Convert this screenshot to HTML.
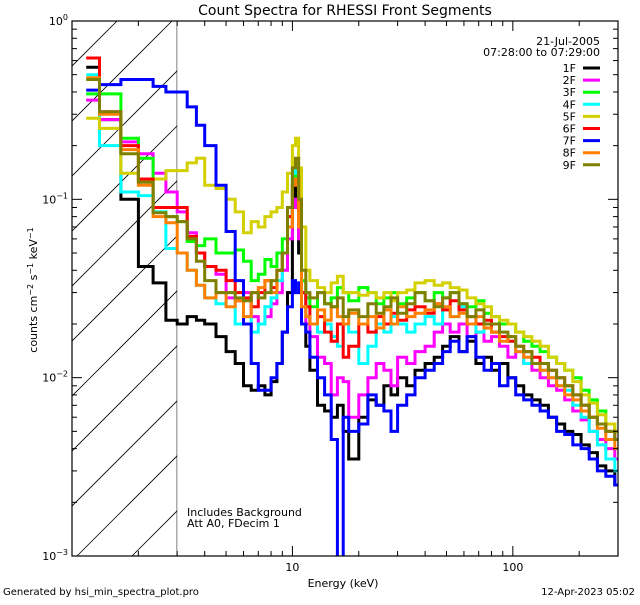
<!DOCTYPE html>
<html><head><meta charset="utf-8"><style>
body{margin:0;background:#fff;}
svg text{font-family:"DejaVu Sans","Liberation Sans",sans-serif;fill:#000;}
</style></head><body>
<svg id="chart" width="640" height="600" xmlns="http://www.w3.org/2000/svg">
<rect width="640" height="600" fill="#fff"/>
<text x="345" y="15" font-size="14" text-anchor="middle">Count Spectra for RHESSI Front Segments</text>
<g id="hatch"></g>
<g id="series"></g>
<g id="axes"></g>
<text x="187" y="516" font-size="11">Includes Background</text>
<text x="187" y="527" font-size="11">Att A0, FDecim 1</text>
<text x="343" y="587" font-size="11" text-anchor="middle">Energy (keV)</text>
<text transform="translate(37,290) rotate(-90)" font-size="11" text-anchor="middle">counts cm<tspan dy="-4" font-size="8">−2</tspan><tspan dy="4"> s</tspan><tspan dy="-4" font-size="8">−1</tspan><tspan dy="4"> keV</tspan><tspan dy="-4" font-size="8">−1</tspan></text>
<text x="3" y="595" font-size="10">Generated by hsi_min_spectra_plot.pro</text>
<text x="635" y="595" font-size="10" text-anchor="end">12-Apr-2023 05:02</text>
<text x="600" y="45" font-size="11" text-anchor="end">21-Jul-2005</text>
<text x="600" y="56" font-size="11" text-anchor="end">07:28:00 to 07:29:00</text>
<g id="legend"></g>
</svg>
<script>
const edges=[1.16,1.333,1.667,2,2.333,2.667,3,3.333,3.667,4,4.5,5,5.5,6,6.5,7,7.5,8,8.5,9,9.5,10,10.33,10.67,11,11.5,12,13,14,15,16,17,18,20,22,24,26,28,30,33,36,40,44,48,52,57,62,68,74,80,87,95,103,112,122,133,145,158,172,187,204,222,242,264,290,300];
const seriesNames=["1F","2F","3F","4F","5F","6F","7F","8F","9F"];
const seriesColors=["#000000","#ff00ff","#00ff00","#00ffff","#d4d000","#ff0000","#0000ff","#ff8000","#808000"];
const s1F=[0.55,0.28,0.10,0.042,0.034,0.021,0.020,0.022,0.021,0.02,0.017,0.014,0.012,0.009,0.0085,0.009,0.008,0.0095,0.012,0.018,0.03,0.09,0.12,0.05,0.02,0.015,0.011,0.007,0.0065,0.006,0.007,0.005,0.0035,0.006,0.0075,0.007,0.009,0.008,0.01,0.009,0.011,0.012,0.013,0.015,0.017,0.014,0.016,0.012,0.013,0.011,0.012,0.01,0.009,0.008,0.0075,0.007,0.006,0.0055,0.005,0.0048,0.0042,0.0038,0.0032,0.003,0.0025];
const s2F=[0.36,0.28,0.21,0.18,0.14,0.11,0.085,0.065,0.05,0.042,0.038,0.028,0.027,0.03,0.022,0.02,0.022,0.026,0.03,0.04,0.06,0.09,0.1,0.06,0.03,0.02,0.017,0.013,0.012,0.008,0.01,0.0095,0.006,0.008,0.01,0.012,0.011,0.009,0.013,0.012,0.014,0.015,0.018,0.02,0.018,0.02,0.017,0.018,0.016,0.017,0.015,0.013,0.014,0.012,0.011,0.01,0.009,0.0085,0.0075,0.0065,0.0058,0.005,0.0045,0.004,0.0035];
const s3F=[0.39,0.39,0.22,0.17,0.085,0.08,0.075,0.058,0.055,0.06,0.05,0.05,0.052,0.045,0.035,0.038,0.046,0.042,0.05,0.06,0.08,0.13,0.15,0.08,0.035,0.028,0.025,0.03,0.026,0.028,0.032,0.03,0.027,0.032,0.03,0.026,0.028,0.03,0.026,0.028,0.03,0.027,0.03,0.028,0.03,0.026,0.025,0.027,0.023,0.022,0.02,0.02,0.018,0.016,0.015,0.014,0.013,0.012,0.011,0.01,0.0085,0.0075,0.0065,0.0055,0.005];
const s4F=[0.5,0.2,0.11,0.105,0.085,0.053,0.05,0.04,0.033,0.028,0.026,0.03,0.02,0.022,0.018,0.02,0.025,0.028,0.035,0.05,0.08,0.14,0.16,0.09,0.03,0.022,0.02,0.018,0.02,0.017,0.015,0.02,0.018,0.012,0.015,0.02,0.018,0.022,0.02,0.018,0.02,0.022,0.02,0.024,0.022,0.025,0.02,0.018,0.02,0.018,0.017,0.016,0.014,0.012,0.012,0.011,0.01,0.009,0.0085,0.007,0.006,0.005,0.0042,0.0035,0.003];
const s5F=[0.285,0.25,0.14,0.125,0.13,0.145,0.145,0.16,0.17,0.12,0.115,0.1,0.085,0.065,0.075,0.07,0.08,0.085,0.09,0.11,0.14,0.2,0.22,0.15,0.07,0.04,0.035,0.032,0.03,0.034,0.037,0.03,0.03,0.029,0.03,0.028,0.03,0.027,0.03,0.031,0.034,0.035,0.033,0.034,0.032,0.031,0.028,0.026,0.025,0.022,0.021,0.02,0.018,0.017,0.016,0.015,0.013,0.012,0.011,0.0095,0.008,0.0072,0.0062,0.0055,0.005];
const s6F=[0.62,0.31,0.2,0.13,0.09,0.09,0.09,0.062,0.05,0.042,0.04,0.035,0.03,0.028,0.025,0.03,0.035,0.032,0.04,0.05,0.08,0.12,0.13,0.08,0.03,0.025,0.02,0.022,0.018,0.016,0.02,0.013,0.015,0.02,0.018,0.022,0.02,0.023,0.021,0.024,0.025,0.023,0.026,0.024,0.027,0.024,0.022,0.02,0.021,0.018,0.017,0.016,0.015,0.014,0.013,0.012,0.011,0.01,0.009,0.008,0.007,0.006,0.0055,0.005,0.0045];
const s7F=[0.41,0.44,0.47,0.47,0.43,0.4,0.4,0.33,0.26,0.2,0.12,0.066,0.035,0.02,0.012,0.0085,0.0085,0.01,0.012,0.018,0.025,0.035,0.03,0.034,0.02,0.018,0.013,0.01,0.008,0.0045,0.0007,0.006,0.005,0.0055,0.008,0.007,0.0065,0.005,0.007,0.008,0.01,0.011,0.012,0.014,0.016,0.014,0.017,0.013,0.011,0.012,0.009,0.01,0.008,0.0075,0.007,0.0065,0.006,0.005,0.0048,0.0042,0.004,0.0035,0.003,0.0028,0.0025];
const s8F=[0.48,0.3,0.19,0.12,0.08,0.074,0.05,0.04,0.033,0.028,0.03,0.025,0.027,0.022,0.03,0.032,0.035,0.03,0.04,0.05,0.07,0.12,0.13,0.07,0.025,0.022,0.02,0.024,0.021,0.025,0.022,0.02,0.023,0.02,0.022,0.019,0.024,0.02,0.025,0.022,0.023,0.024,0.026,0.025,0.022,0.023,0.02,0.022,0.019,0.018,0.016,0.017,0.014,0.013,0.012,0.011,0.01,0.009,0.008,0.0075,0.0065,0.006,0.0052,0.0045,0.004];
const s9F=[0.47,0.31,0.18,0.125,0.084,0.08,0.075,0.06,0.045,0.035,0.03,0.03,0.028,0.027,0.03,0.028,0.03,0.035,0.04,0.05,0.09,0.15,0.17,0.1,0.04,0.03,0.028,0.03,0.026,0.025,0.028,0.022,0.024,0.022,0.026,0.023,0.025,0.028,0.023,0.026,0.03,0.027,0.025,0.028,0.03,0.026,0.022,0.024,0.02,0.02,0.018,0.017,0.015,0.014,0.012,0.012,0.011,0.01,0.009,0.008,0.007,0.006,0.0055,0.005,0.0045];
const seriesValues=[s1F,s2F,s3F,s4F,s5F,s6F,s7F,s8F,s9F];
const xTickLabels=["10","100"];
const yTickLabels=["0","−1","−2","−3"];

const NS="http://www.w3.org/2000/svg";
const L=72,R=618,T=21,B=556;
const xmin=1,xmax=300,ymin=1e-3,ymax=1;
function X(e){return L+(Math.log10(e)-Math.log10(xmin))/(Math.log10(xmax)-Math.log10(xmin))*(R-L);}
function Y(v){return T+(Math.log10(ymax)-Math.log10(v))/(Math.log10(ymax)-Math.log10(ymin))*(B-T);}
function mk(tag,attrs,parent){const el=document.createElementNS(NS,tag);for(const k in attrs)el.setAttribute(k,attrs[k]);parent.appendChild(el);return el;}
const svg=document.getElementById('chart');
const defs=mk('defs',{},svg);
const cp=mk('clipPath',{id:'plotclip'},defs);
mk('rect',{x:L,y:T,width:R-L,height:B-T},cp);
const hcp=mk('clipPath',{id:'hatchclip'},defs);
mk('rect',{x:L,y:T,width:X(3)-L,height:B-T},hcp);

const hatch=document.getElementById('hatch');
hatch.setAttribute('clip-path','url(#hatchclip)');
for(let k=-600;k<200;k+=55){
  const ln=mk('line',{x1:L+k,y1:B,x2:L+k+600,y2:B-600,stroke:'#000','stroke-width':0.8},hatch);
  
  
}
const vl=mk('line',{x1:X(3),y1:T,x2:X(3),y2:B,stroke:'#000','stroke-width':1},hatch);



const sg=document.getElementById('series');
sg.setAttribute('clip-path','url(#plotclip)');
seriesValues.forEach((vals,i)=>{
  let d='';
  vals.forEach((v,j)=>{
    const x0=X(edges[j]),x1=X(edges[j+1]),y=Y(v);
    d+=(j===0?'M':'L')+x0.toFixed(1)+','+y.toFixed(1)+'L'+x1.toFixed(1)+','+y.toFixed(1);
  });
  const p=mk('path',{d:d,fill:'none',stroke:seriesColors[i],'stroke-width':3,'stroke-linejoin':'miter'},sg);
  
  
});

const ax=document.getElementById('axes');
const fr=mk('rect',{x:L,y:T,width:R-L,height:B-T,fill:'none',stroke:'#000','stroke-width':1.2},ax);


for(let dec=1;dec<=100;dec*=10){
  for(let m=1;m<=9;m++){
    const e=dec*m; if(e<xmin||e>xmax)continue;
    const x=X(e),len=(m===1)?10:5;
    const t1=mk('line',{x1:x,y1:B,x2:x,y2:B-len,stroke:'#000'},ax);
    
    
    const t2=mk('line',{x1:x,y1:T,x2:x,y2:T+len,stroke:'#000'},ax);
    
    
  }
}
xTickLabels.forEach(lbl=>{
  const t=mk('text',{x:X(parseFloat(lbl)),y:B+15,'font-size':11,'text-anchor':'middle'},ax);
  t.textContent=lbl;
  
  
});
for(let p=-3;p<=0;p++){
  for(let m=1;m<=9;m++){
    const v=Math.pow(10,p)*m; if(v>ymax*1.0001)continue;
    const y=Y(v),len=(m===1)?10:5;
    const t1=mk('line',{x1:L,y1:y,x2:L+len,y2:y,stroke:'#000'},ax);
    
    
    const t2=mk('line',{x1:R,y1:y,x2:R-len,y2:y,stroke:'#000'},ax);
    
    
  }
}
yTickLabels.forEach(lbl=>{
  const p=parseFloat(lbl.replace('−','-'));
  const t=mk('text',{x:L-4,y:Y(Math.pow(10,p))+4,'font-size':11,'text-anchor':'end'},ax);
  t.innerHTML='10<tspan dy="-5" font-size="8">'+lbl+'</tspan>';
  
  
});

const lg=document.getElementById('legend');
seriesNames.forEach((n,i)=>{
  const y=68+i*12.1;
  const t=mk('text',{x:576,y:y+4,'font-size':11,'text-anchor':'end'},lg);
  t.textContent=n;
  
  
  const l=mk('line',{x1:583,y1:y,x2:600,y2:y,stroke:seriesColors[i],'stroke-width':3},lg);
  
  
});
</script>
</body></html>
